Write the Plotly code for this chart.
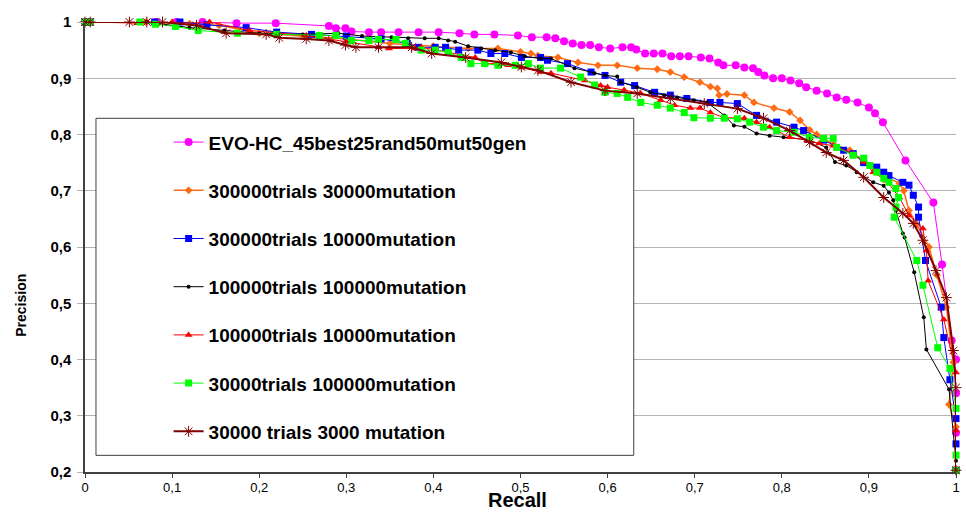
import plotly.graph_objects as go

names = [
    "EVO-HC_45best25rand50mut50gen",
    "300000trials 30000mutation",
    "300000trials 10000mutation",
    "100000trials 100000mutation",
    "100000trials 10000mutation",
    "30000trials 100000mutation",
    "30000 trials 3000 mutation",
]

evo_x = [0, 0.006, 0.082, 0.105, 0.135, 0.174, 0.219, 0.28, 0.288, 0.299, 0.306, 0.326, 0.34, 0.36, 0.383, 0.406, 0.43, 0.447, 0.47, 0.497, 0.513, 0.53, 0.54, 0.55, 0.56, 0.57, 0.58, 0.59, 0.603, 0.617, 0.627, 0.633, 0.643, 0.653, 0.663, 0.673, 0.683, 0.693, 0.707, 0.717, 0.727, 0.733, 0.747, 0.757, 0.767, 0.773, 0.78, 0.79, 0.8, 0.81, 0.82, 0.828, 0.84, 0.852, 0.863, 0.874, 0.887, 0.9, 0.907, 0.916, 0.942, 0.974, 0.984, 0.995, 1.0, 1.0, 1.0, 1.0]
evo_y = [1, 1, 1, 1, 1, 0.998, 0.998, 0.993, 0.989, 0.989, 0.983, 0.982, 0.982, 0.982, 0.982, 0.982, 0.98, 0.978, 0.978, 0.976, 0.973, 0.973, 0.971, 0.966, 0.962, 0.959, 0.959, 0.955, 0.953, 0.955, 0.955, 0.951, 0.944, 0.944, 0.944, 0.939, 0.939, 0.939, 0.937, 0.935, 0.928, 0.923, 0.923, 0.919, 0.918, 0.911, 0.905, 0.9, 0.9, 0.896, 0.891, 0.884, 0.878, 0.873, 0.866, 0.862, 0.857, 0.848, 0.838, 0.822, 0.754, 0.679, 0.569, 0.434, 0.4, 0.34, 0.27, 0.203]

o_x = [0, 0.006, 0.07, 0.12, 0.154, 0.2, 0.25, 0.3, 0.35, 0.4, 0.44, 0.474, 0.5, 0.512, 0.52, 0.543, 0.566, 0.589, 0.611, 0.634, 0.657, 0.672, 0.688, 0.706, 0.718, 0.726, 0.728, 0.737, 0.757, 0.768, 0.791, 0.809, 0.821, 0.832, 0.84, 0.86, 0.878, 0.894, 0.905, 0.92, 0.935, 0.94, 0.946, 0.955, 0.969, 0.978, 0.989, 0.997, 0.992, 1.0, 1.0]
o_y = [1, 1, 1, 0.997, 0.994, 0.98, 0.975, 0.97, 0.962, 0.957, 0.953, 0.953, 0.947, 0.944, 0.94, 0.937, 0.928, 0.923, 0.923, 0.918, 0.916, 0.911, 0.902, 0.893, 0.885, 0.882, 0.87, 0.872, 0.87, 0.857, 0.847, 0.84, 0.825, 0.808, 0.8, 0.782, 0.772, 0.752, 0.742, 0.725, 0.713, 0.7, 0.665, 0.64, 0.6, 0.55, 0.493, 0.395, 0.32, 0.28, 0.203]

b_x = [0, 0.006, 0.08, 0.109, 0.14, 0.185, 0.22, 0.26, 0.3, 0.34, 0.37, 0.383, 0.402, 0.414, 0.429, 0.451, 0.466, 0.482, 0.501, 0.523, 0.531, 0.554, 0.581, 0.597, 0.615, 0.631, 0.654, 0.672, 0.691, 0.718, 0.729, 0.749, 0.771, 0.794, 0.814, 0.825, 0.848, 0.871, 0.882, 0.894, 0.909, 0.917, 0.923, 0.939, 0.946, 0.951, 0.957, 0.957, 0.965, 0.983, 0.986, 0.993, 1.0, 1.0, 1.0]
b_y = [1, 1, 1, 1, 0.995, 0.99, 0.982, 0.978, 0.975, 0.97, 0.962, 0.955, 0.955, 0.955, 0.95, 0.95, 0.944, 0.944, 0.937, 0.937, 0.932, 0.926, 0.911, 0.905, 0.893, 0.887, 0.875, 0.87, 0.864, 0.857, 0.857, 0.855, 0.834, 0.822, 0.813, 0.807, 0.79, 0.772, 0.766, 0.75, 0.742, 0.733, 0.727, 0.715, 0.71, 0.692, 0.671, 0.653, 0.576, 0.493, 0.439, 0.364, 0.295, 0.25, 0.203]

k_x = [0, 0.006, 0.071, 0.12, 0.16, 0.2, 0.25, 0.291, 0.318, 0.352, 0.371, 0.39, 0.406, 0.417, 0.425, 0.44, 0.455, 0.471, 0.489, 0.505, 0.523, 0.535, 0.562, 0.585, 0.597, 0.611, 0.615, 0.634, 0.649, 0.665, 0.68, 0.699, 0.714, 0.734, 0.745, 0.757, 0.771, 0.786, 0.802, 0.832, 0.851, 0.861, 0.874, 0.886, 0.905, 0.917, 0.923, 0.928, 0.931, 0.939, 0.941, 0.952, 0.963, 0.966, 0.992, 1.0, 1.0]
k_y = [1, 1, 1, 0.99, 0.985, 0.98, 0.978, 0.98, 0.975, 0.973, 0.971, 0.971, 0.971, 0.967, 0.965, 0.957, 0.953, 0.95, 0.946, 0.939, 0.935, 0.935, 0.918, 0.909, 0.905, 0.903, 0.893, 0.884, 0.875, 0.87, 0.866, 0.861, 0.857, 0.834, 0.816, 0.814, 0.802, 0.798, 0.795, 0.79, 0.777, 0.751, 0.745, 0.733, 0.715, 0.709, 0.697, 0.683, 0.665, 0.624, 0.617, 0.555, 0.475, 0.418, 0.347, 0.22, 0.203]

r_x = [0, 0.006, 0.06, 0.1, 0.143, 0.189, 0.254, 0.3, 0.337, 0.349, 0.379, 0.386, 0.417, 0.448, 0.459, 0.474, 0.486, 0.501, 0.523, 0.535, 0.574, 0.592, 0.6, 0.619, 0.638, 0.661, 0.677, 0.695, 0.706, 0.718, 0.734, 0.757, 0.771, 0.786, 0.809, 0.829, 0.843, 0.859, 0.882, 0.894, 0.905, 0.92, 0.935, 0.946, 0.962, 0.966, 0.968, 0.986, 1.0, 1.0, 1.0]
r_y = [1, 1, 0.998, 1, 1, 0.985, 0.976, 0.965, 0.955, 0.953, 0.953, 0.955, 0.946, 0.937, 0.926, 0.926, 0.923, 0.919, 0.911, 0.909, 0.896, 0.887, 0.884, 0.879, 0.873, 0.861, 0.852, 0.847, 0.847, 0.839, 0.83, 0.829, 0.822, 0.813, 0.795, 0.79, 0.784, 0.78, 0.766, 0.751, 0.733, 0.718, 0.688, 0.656, 0.633, 0.594, 0.54, 0.471, 0.377, 0.274, 0.203]

g_x = [0, 0.006, 0.063, 0.081, 0.104, 0.13, 0.175, 0.22, 0.269, 0.288, 0.306, 0.326, 0.337, 0.357, 0.368, 0.386, 0.402, 0.417, 0.432, 0.443, 0.459, 0.474, 0.494, 0.509, 0.523, 0.546, 0.569, 0.585, 0.597, 0.611, 0.623, 0.638, 0.657, 0.672, 0.688, 0.699, 0.718, 0.734, 0.749, 0.763, 0.779, 0.794, 0.814, 0.832, 0.848, 0.859, 0.863, 0.882, 0.894, 0.901, 0.909, 0.917, 0.923, 0.931, 0.934, 0.931, 0.929, 0.955, 0.962, 0.979, 0.993, 1.0, 1.0, 1.0]
g_y = [1, 1, 1, 0.996, 0.992, 0.985, 0.98, 0.978, 0.976, 0.976, 0.967, 0.967, 0.969, 0.969, 0.962, 0.95, 0.95, 0.946, 0.937, 0.926, 0.926, 0.923, 0.923, 0.926, 0.918, 0.918, 0.902, 0.888, 0.875, 0.873, 0.866, 0.857, 0.852, 0.847, 0.839, 0.83, 0.829, 0.829, 0.828, 0.822, 0.813, 0.807, 0.804, 0.795, 0.793, 0.793, 0.777, 0.763, 0.758, 0.745, 0.733, 0.722, 0.715, 0.704, 0.688, 0.671, 0.653, 0.576, 0.532, 0.421, 0.384, 0.313, 0.23, 0.203]

m_x = [0, 0.006, 0.051, 0.071, 0.089, 0.128, 0.162, 0.208, 0.223, 0.254, 0.28, 0.299, 0.311, 0.337, 0.375, 0.398, 0.437, 0.478, 0.501, 0.52, 0.558, 0.597, 0.634, 0.672, 0.711, 0.749, 0.779, 0.809, 0.832, 0.851, 0.871, 0.894, 0.917, 0.939, 0.951, 0.962, 0.977, 0.989, 0.997, 1.0, 1.0]
m_y = [1, 1, 1, 1, 1, 0.994, 0.98, 0.978, 0.972, 0.97, 0.967, 0.959, 0.955, 0.955, 0.955, 0.944, 0.937, 0.928, 0.92, 0.914, 0.893, 0.878, 0.873, 0.864, 0.855, 0.846, 0.829, 0.807, 0.786, 0.768, 0.754, 0.724, 0.688, 0.66, 0.642, 0.612, 0.558, 0.51, 0.416, 0.35, 0.203]

x_ticks = [0, 0.1, 0.2, 0.3, 0.4, 0.5, 0.6, 0.7, 0.8, 0.9, 1]
y_ticks = [0.2, 0.3, 0.4, 0.5, 0.6, 0.7, 0.8, 0.9, 1]

series = [
    (evo_x, evo_y, "#FF00FF", "circle", 8, 1),
    (o_x, o_y, "#FF6A13", "diamond", 6, 1.5),
    (b_x, b_y, "#0000FF", "square", 7, 1),
    (k_x, k_y, "#000000", "circle", 4, 1),
    (r_x, r_y, "#FF0000", "triangle-up", 7, 1),
    (g_x, g_y, "#00FF00", "square", 7, 1),
    (m_x, m_y, "#800000", "asterisk-open", 9, 2),
]

fig = go.Figure()
for i, (xs, ys, col, sym, sz, lw) in enumerate(series):
    marker = dict(symbol=sym, size=sz, color=col)
    if sym == "asterisk-open":
        marker["line"] = dict(color="#A04040", width=1)
    fig.add_trace(go.Scatter(
        x=xs, y=ys, mode="lines+markers", name=names[i],
        legendgroup="g%d" % i,
        line=dict(color=col, width=lw),
        marker=marker, cliponaxis=False,
    ))

fig.add_shape(type="rect", xref="paper", yref="paper",
              x0=0.0126, x1=0.63, y0=0.037, y1=0.786,
              line=dict(color="#404040", width=1), fillcolor="white", layer="above")

fig.update_layout(
    width=966, height=513,
    margin=dict(l=85, r=6, t=22, b=41),
    paper_bgcolor="white", plot_bgcolor="white",
    separators=", ",
    font=dict(family="Liberation Sans, Arial, sans-serif", color="black"),
    showlegend=True,
    legend=dict(
        x=0.096, y=0.775, xanchor="left", yanchor="top",
        bgcolor="rgba(0,0,0,0)", borderwidth=0,
        font=dict(size=19, weight="bold", color="black"),
        tracegroupgap=20.5, traceorder="grouped",
    ),
    xaxis=dict(
        range=[0, 1], tickvals=x_ticks, showgrid=False, zeroline=False,
        showline=True, linecolor="#404040", linewidth=1.5,
        ticks="outside", ticklen=4, tickcolor="#404040",
        ticklabelstandoff=-1,
        tickfont=dict(size=13, color="black"),
    ),
    yaxis=dict(
        range=[0.2, 1], tickvals=y_ticks, showgrid=True, gridcolor="#B4B4B4",
        gridwidth=1, zeroline=False,
        showline=True, linecolor="#404040", linewidth=1.5,
        ticks="outside", ticklen=6, tickcolor="#B4B4B4",
        ticklabelstandoff=3,
        tickfont=dict(size=15, weight="bold", color="black"),
    ),
    annotations=[
        dict(text="Recall", xref="paper", yref="paper", x=0.497, y=-0.0911,
             xanchor="center", yanchor="bottom", showarrow=False,
             font=dict(size=20, weight="bold", color="black")),
        dict(text="Precision", xref="paper", yref="paper", x=-0.0743, y=0.37,
             xanchor="center", yanchor="middle", showarrow=False, textangle=-90,
             font=dict(size=14, weight="bold", color="black")),
    ],
)

fig.write_html("out.html", config={"displayModeBar": False},
               post_script="document.body.style.margin='0';")
